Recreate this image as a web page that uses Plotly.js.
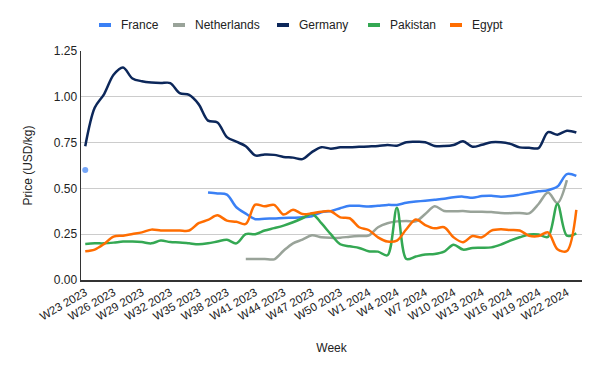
<!DOCTYPE html>
<html>
<head>
<meta charset="utf-8">
<script src="https://cdn.plot.ly/plotly-3.0.1.min.js"></script>
<style>html,body{margin:0;padding:0;background:#fff;}#chart{width:600px;height:371px;}</style>
</head>
<body>
<div id="chart"></div>
<script>
var weeks = [];
for (var w = 23; w <= 52; w++) weeks.push('W' + w + ' 2023');
for (var w2 = 1; w2 <= 23; w2++) weeks.push('W' + w2 + ' 2024');

var seriesNames = ['France', 'Netherlands', 'Germany', 'Pakistan', 'Egypt'];
var seriesColors = ['#3a80f5', '#99a399', '#0c275a', '#34a853', '#ff6d01'];

var france = [0.60,null,null,null,null,null,null,null,null,null,null,null,null,
  0.477,0.472,0.466,0.397,0.362,0.332,0.335,0.336,0.339,0.34,0.342,0.348,0.37,0.376,0.392,0.405,0.405,0.401,0.405,0.41,0.41,0.422,0.428,0.433,0.438,0.443,0.452,0.455,0.449,0.458,0.46,0.455,0.458,0.466,0.475,0.484,0.49,0.51,0.578,0.568];
var netherlands = [null,null,null,null,null,null,null,null,null,null,null,null,null,null,null,null,null,
  0.115,0.115,0.115,0.113,0.16,0.2,0.22,0.244,0.233,0.23,0.231,0.236,0.24,0.243,0.288,0.31,0.32,0.322,0.32,0.36,0.402,0.377,0.375,0.376,0.373,0.373,0.371,0.366,0.365,0.366,0.364,0.415,0.477,0.42,0.545,null];
var germany = [0.73,0.94,1.015,1.12,1.16,1.10,1.085,1.078,1.075,1.075,1.02,1.01,0.96,0.87,0.86,0.78,0.755,0.73,0.68,0.685,0.683,0.672,0.668,0.66,0.698,0.725,0.717,0.724,0.725,0.727,0.729,0.731,0.737,0.733,0.752,0.754,0.752,0.732,0.731,0.737,0.757,0.727,0.738,0.752,0.752,0.743,0.724,0.722,0.72,0.807,0.793,0.815,0.805];
var pakistan = [0.197,0.2,0.2,0.204,0.21,0.21,0.207,0.2,0.215,0.207,0.205,0.2,0.195,0.2,0.21,0.22,0.2,0.25,0.25,0.27,0.283,0.297,0.315,0.337,0.362,0.31,0.25,0.195,0.184,0.175,0.157,0.155,0.135,0.395,0.115,0.128,0.139,0.142,0.155,0.193,0.166,0.175,0.176,0.178,0.193,0.215,0.233,0.248,0.248,0.235,0.415,0.242,0.255];
var egypt = [0.157,0.166,0.197,0.237,0.242,0.251,0.26,0.275,0.27,0.27,0.27,0.27,0.31,0.328,0.353,0.324,0.318,0.306,0.411,0.402,0.41,0.357,0.384,0.36,0.364,0.373,0.375,0.342,0.337,0.288,0.273,0.233,0.21,0.215,0.277,0.33,0.3,0.282,0.288,0.233,0.206,0.24,0.233,0.27,0.277,0.273,0.27,0.242,0.24,0.26,0.168,0.158,0.383];

var seriesValues = [france, netherlands, germany, pakistan, egypt];
var tickWeeks = weeks.filter(function(_, i){ return i % 3 === 0 && i <= 51; });

function isolatedSizes(arr) {
  return arr.map(function(v, i){
    var iso = v !== null && (i === 0 || arr[i-1] === null) && (i === arr.length-1 || arr[i+1] === null);
    return iso ? 6 : 0;
  });
}

var data = seriesValues.map(function(vals, k){
  return {x: weeks, y: vals, name: seriesNames[k], type: 'scatter', mode: 'lines+markers',
    line: {color: seriesColors[k], width: 2.5, shape: 'spline', smoothing: 0.9},
    marker: {size: isolatedSizes(vals), color: seriesColors[k], line: {width: 0}},
    connectgaps: false, showlegend: false};
});

var fam = 'Liberation Sans, Arial, sans-serif';

// Legend drawn at the top (positions in pixels converted to paper coordinates)
var plotL = 81, plotW = 501, plotB = 280, plotH = 229;
function px(x){ return (x - plotL) / plotW; }
function py(y){ return (plotB - y) / plotH; }
var legendSwatchX = [99, 173, 277, 368, 450];
var legendY = 25;
var shapes = [], annotations = [];
seriesNames.forEach(function(n, k){
  shapes.push({type: 'line', xref: 'paper', yref: 'paper',
    x0: px(legendSwatchX[k]), x1: px(legendSwatchX[k] + 12), y0: py(legendY), y1: py(legendY),
    line: {color: seriesColors[k], width: 4}});
  annotations.push({xref: 'paper', yref: 'paper', x: px(legendSwatchX[k] + 20), y: py(legendY),
    xanchor: 'left', yanchor: 'middle', showarrow: false, text: n,
    font: {family: fam, size: 12, color: '#222'}});
});

var layout = {
  width: 600, height: 371,
  margin: {l: 81, r: 18, t: 51, b: 91},
  paper_bgcolor: '#fff', plot_bgcolor: '#fff',
  font: {family: fam, size: 12, color: '#222'},
  showlegend: false,
  shapes: shapes, annotations: annotations,
  xaxis: {
    type: 'category', range: [-0.45, 52.6],
    tickmode: 'array', tickvals: tickWeeks, ticktext: tickWeeks,
    tickangle: -30, ticks: '', showgrid: false, zeroline: false,
    showline: true, linecolor: '#333', linewidth: 1.5,
    tickfont: {family: fam, size: 11.5, color: '#222'},
    title: {text: 'Week', font: {family: fam, size: 12, color: '#222'}, standoff: 22}
  },
  yaxis: {
    range: [0, 1.25], dtick: 0.25, tickformat: '.2f',
    showgrid: true, gridcolor: '#cccccc', gridwidth: 1, zeroline: false,
    showline: true, linecolor: '#333', linewidth: 1.5, ticks: '',
    tickfont: {family: fam, size: 12, color: '#222'},
    title: {text: 'Price (USD/kg)', font: {family: fam, size: 12, color: '#222'}, standoff: 18}
  }
};

Plotly.newPlot('chart', data, layout, {displayModeBar: false, staticPlot: true});
</script>
</body>
</html>
